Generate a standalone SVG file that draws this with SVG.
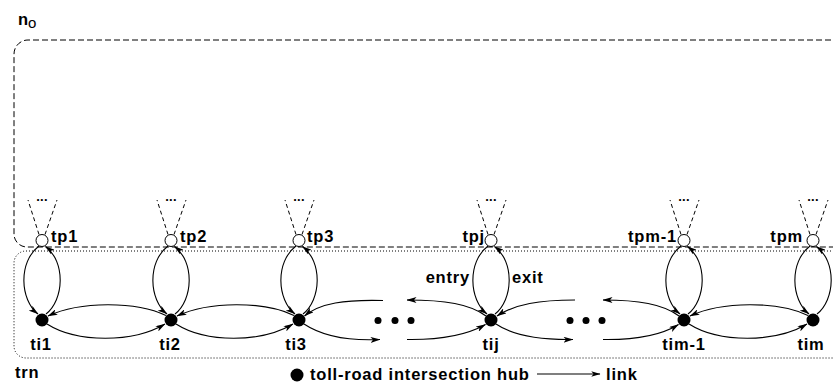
<svg xmlns="http://www.w3.org/2000/svg" width="833" height="386" viewBox="0 0 833 386">
<defs>
<style>
.lbl{font-family:"Liberation Sans",Arial,sans-serif;font-weight:bold;font-size:16.5px;letter-spacing:0.8px;fill:#000}
.dots{font-family:"Liberation Sans",Arial,sans-serif;font-weight:bold;font-size:13px;letter-spacing:0.3px;fill:#000}
.tp{fill:#fff;stroke:#000;stroke-width:1}
.ti{fill:#000}
.cone{stroke:#000;stroke-width:1;stroke-dasharray:4 3;fill:none}
.arc{fill:none;stroke:#000;stroke-width:1.1;marker-end:url(#ah)}
.box1{fill:none;stroke:#000;stroke-width:1;stroke-dasharray:6 3}
.box2{fill:none;stroke:#000;stroke-width:1;stroke-dasharray:1 2}
</style>
<marker id="ah" viewBox="0 0 10 6" refX="9.5" refY="3" markerWidth="10" markerHeight="6" markerUnits="userSpaceOnUse" orient="auto">
<path d="M0,0 L10,3 L0,6 L2.5,3 z" fill="#000"/>
</marker>
<marker id="ah2" viewBox="0 0 10 6" refX="9.5" refY="3" markerWidth="13" markerHeight="5.5" markerUnits="userSpaceOnUse" orient="auto">
<path d="M0,0 L10,3 L0,6 L2.5,3 z" fill="#000"/>
</marker>
</defs>
<rect width="833" height="386" fill="#fff"/>

<g id="no">
<text x="18" y="25" class="lbl">n</text>
<text x="28" y="28" style="font-family:'Liberation Sans',Arial,sans-serif;font-size:15px">o</text>
<path class="box1" d="M840,40 H28 A14 14 0 0 0 14 54 V234 A13 13 0 0 0 27 247 H840"/>
</g>

<g id="trn">
<path class="box2" d="M840,251 H26 A12 12 0 0 0 14 263 V346 A12 12 0 0 0 26 358 H840"/>
<text x="15" y="378" class="lbl">trn</text>
</g>

<g id="connectors">
<path class="arc" d="M39,246 C18,262 20,300 38,314"/>
<path class="arc" d="M46,314 C64,300 66,262 45.5,246.5"/>
<path class="arc" d="M168,246 C147,262 149,300 167,314"/>
<path class="arc" d="M175,314 C193,300 195,262 174.5,246.5"/>
<path class="arc" d="M296,246 C275,262 277,300 295,314"/>
<path class="arc" d="M303,314 C321,300 323,262 302.5,246.5"/>
<path class="arc" d="M488,246 C467,262 469,300 487,314"/>
<path class="arc" d="M495,314 C513,300 515,262 494.5,246.5"/>
<path class="arc" d="M681,246 C660,262 662,300 680,314"/>
<path class="arc" d="M688,314 C706,300 708,262 687.5,246.5"/>
<path class="arc" d="M810,246 C789,262 791,300 809,314"/>
<path class="arc" d="M817,314 C835,300 837,262 816.5,246.5"/>
<path class="arc" d="M166,315.5 C136,301 80,301 48,316"/>
<path class="arc" d="M47,324 C77,343 133,343 165,324"/>
<path class="arc" d="M294,315.5 C264,301 209,301 177,316"/>
<path class="arc" d="M176,324 C206,343 261,343 293,324"/>
<path class="arc" d="M808,315.5 C778,301 722,301 690,316"/>
<path class="arc" d="M689,324 C719,343 775,343 807,324"/>
<path class="arc" d="M383,300.5 C345,299.5 320,303 304.5,316"/>
<path class="arc" d="M304,324 C322,336 348,341 380,339.5"/>
<path class="arc" d="M486,316 C470,304 445,300 407,300"/>
<path class="arc" d="M407,339.5 C440,340 465,336 485.5,324.5"/>
<path class="arc" d="M575,300 C540,300 515,304 497,316"/>
<path class="arc" d="M496,324 C512,335 540,340 573,339.5"/>
<path class="arc" d="M679,316 C663,304 638,300 603,300"/>
<path class="arc" d="M603,339.5 C635,340 660,336 678.5,324.5"/>
</g>

<g id="ellipsis1">
<circle cx="378" cy="320.5" r="3.5"/>
<circle cx="395" cy="320.5" r="3.5"/>
<circle cx="411" cy="320.5" r="3.5"/>
</g>
<g id="ellipsis2">
<circle cx="570" cy="320.5" r="3.5"/>
<circle cx="586" cy="320.5" r="3.5"/>
<circle cx="602" cy="320.5" r="3.5"/>
</g>

<g id="tp1">
<path class="cone" d="M39,234.5 L28,200 M45,234.5 L57,200"/>
<text x="42" y="201" class="dots" text-anchor="middle">...</text>
<circle class="tp" cx="42" cy="240.5" r="6"/>
<text x="51" y="241.5" class="lbl">tp1</text>
</g>
<g id="tp2">
<path class="cone" d="M168,234.5 L157,200 M174,234.5 L186,200"/>
<text x="171" y="201" class="dots" text-anchor="middle">...</text>
<circle class="tp" cx="171" cy="240.5" r="6"/>
<text x="180" y="241.5" class="lbl">tp2</text>
</g>
<g id="tp3">
<path class="cone" d="M296,234.5 L285,200 M302,234.5 L314,200"/>
<text x="299" y="201" class="dots" text-anchor="middle">...</text>
<circle class="tp" cx="299" cy="240.5" r="6"/>
<text x="307" y="242" class="lbl">tp3</text>
</g>
<g id="tpj">
<path class="cone" d="M488,234.5 L477,200 M494,234.5 L506,200"/>
<text x="491" y="201" class="dots" text-anchor="middle">...</text>
<circle class="tp" cx="491" cy="240.5" r="6"/>
<text x="485" y="242" class="lbl" text-anchor="end">tpj</text>
<text x="470" y="283" class="lbl" text-anchor="end">entry</text>
<text x="512" y="283" class="lbl">exit</text>
</g>
<g id="tpm-1">
<path class="cone" d="M681,234.5 L670,200 M687,234.5 L699,200"/>
<text x="684" y="201" class="dots" text-anchor="middle">...</text>
<circle class="tp" cx="684" cy="240.5" r="6"/>
<text x="677" y="241.5" class="lbl" text-anchor="end">tpm-1</text>
</g>
<g id="tpm">
<path class="cone" d="M810,234.5 L799,200 M816,234.5 L828,200"/>
<text x="813" y="201" class="dots" text-anchor="middle">...</text>
<circle class="tp" cx="813" cy="240.5" r="6"/>
<text x="803" y="241.5" class="lbl" text-anchor="end">tpm</text>
</g>

<g id="ti1"><circle class="ti" cx="42" cy="320" r="6.5"/><text x="41" y="350" class="lbl" text-anchor="middle">ti1</text></g>
<g id="ti2"><circle class="ti" cx="171" cy="320" r="6.5"/><text x="170" y="350" class="lbl" text-anchor="middle">ti2</text></g>
<g id="ti3"><circle class="ti" cx="299" cy="320" r="6.5"/><text x="296" y="350" class="lbl" text-anchor="middle">ti3</text></g>
<g id="tij"><circle class="ti" cx="491" cy="320" r="6.5"/><text x="491" y="350" class="lbl" text-anchor="middle">tij</text></g>
<g id="tim-1"><circle class="ti" cx="684" cy="320" r="6.5"/><text x="684" y="350" class="lbl" text-anchor="middle">tim-1</text></g>
<g id="tim"><circle class="ti" cx="813" cy="320" r="6.5"/><text x="811" y="350" class="lbl" text-anchor="middle">tim</text></g>

<g id="legend">
<circle cx="297" cy="375" r="6.5"/>
<text x="310" y="380" class="lbl">toll-road intersection hub</text>
<path d="M537,374 H600" stroke="#000" stroke-width="1.1" marker-end="url(#ah2)"/>
<text x="606" y="380" class="lbl">link</text>
</g>
</svg>
